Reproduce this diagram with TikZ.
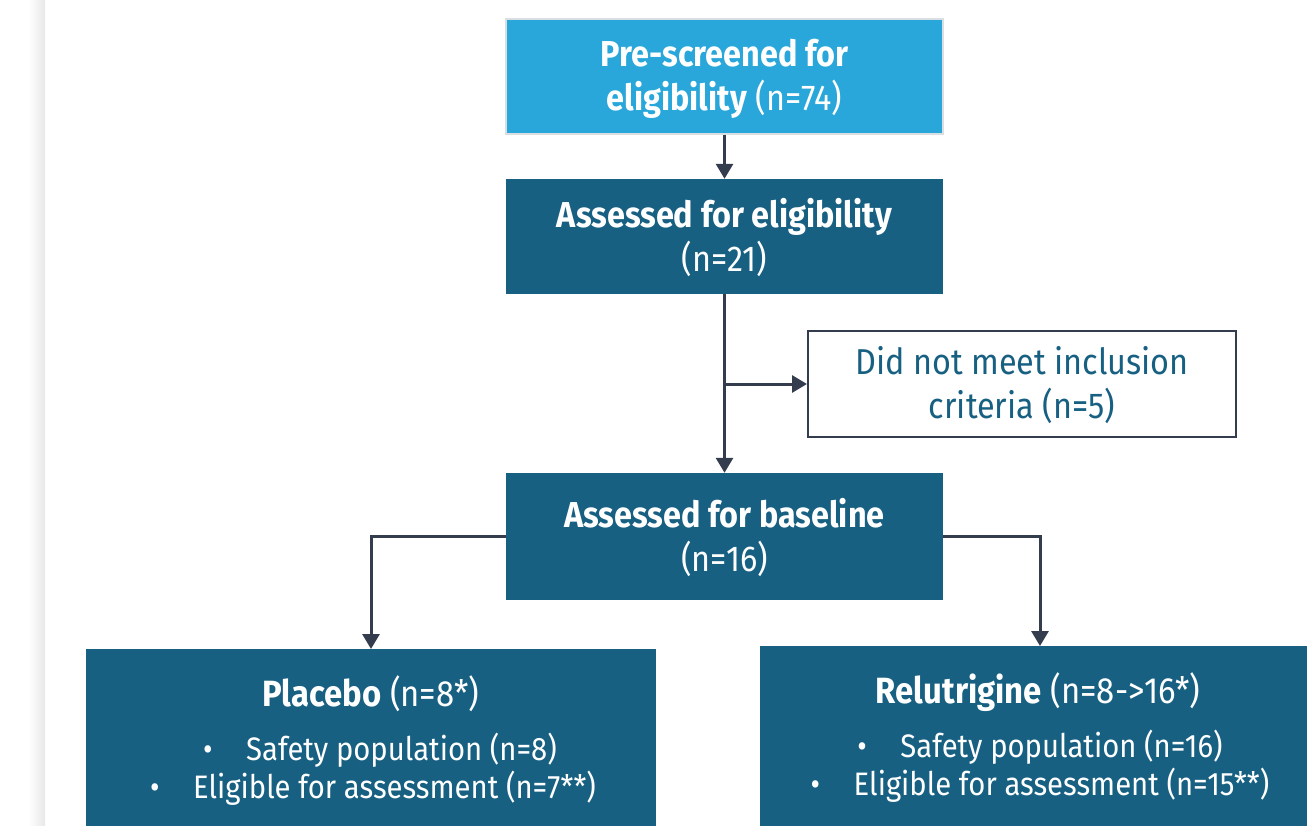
\documentclass[tikz,border=0pt]{standalone}
\usepackage{fontspec}
\setmainfont{Fira Sans}[FakeStretch=0.9]
\usetikzlibrary{arrows.meta,positioning}
\definecolor{skyblue}{HTML}{29A7DA}
\definecolor{deepteal}{HTML}{176082}
\definecolor{arrowgray}{HTML}{333D4E}
\definecolor{rimgray}{HTML}{D9DEE3}
\begin{document}
\begin{tikzpicture}[x=1pt,y=-1pt,
  box/.style={fill=deepteal, text=white, minimum width=437pt, inner sep=0pt, align=center, font=\fontsize{36}{44}\selectfont},
  arm/.style={fill=deepteal, inner sep=0pt, minimum height=190pt},
  line/.style={text=white, anchor=base, inner sep=0pt, font=\fontsize{32.5}{40}\selectfont},
  head/.style={line, font=\fontsize{36.5}{44}\selectfont},
  conn/.style={draw=arrowgray, line width=3pt, -{Triangle[width=17pt,length=15pt]}}]
\pgfmathsetmacro{\W}{1307}
\pgfmathsetmacro{\H}{826}
\useasboundingbox (0,0) rectangle (\W,\H);
\clip (0,0) rectangle (\W,\H);
% page edge shadow
\shade[left color=white, right color=black!9] (28,0) rectangle (45,\H);
% main column
\node[box, fill=skyblue, draw=rimgray, line width=1.5pt, minimum height=115pt, text depth=4pt] (prescreen) at (724.5,76.5)
  {\textbf{Pre-screened for}\\\textbf{eligibility} (n=74)};
\node[box, minimum height=115pt, text depth=4pt] (assessed) at (724.5,236.5)
  {\textbf{Assessed for eligibility}\\(n=21)};
\node[box, minimum height=127pt, text depth=4pt] (baseline) at (724.5,536.5)
  {\textbf{Assessed for baseline}\\(n=16)};
\node[draw=arrowgray, line width=2pt, fill=white, text=deepteal, align=center, minimum width=428pt,
  minimum height=106pt, inner sep=0pt, text depth=4pt, font=\fontsize{36}{44}\selectfont] (excluded) at (1022,384)
  {Did not meet inclusion\\criteria (n=5)};
% arms (cut by the page edge)
\node[arm, minimum width=570pt, anchor=north] (placebo) at (371,649) {};
\node[arm, minimum width=560pt, anchor=north] (relu) at (1040,646) {};
\node[head] (placebohead) at (371,706) {\textbf{Placebo} (n=8*)};
\node[line] (placebo1) at (380,760) {\makebox[43pt][l]{•}Safety population (n=8)};
\node[line] (placebo2) at (373,798) {\makebox[43pt][l]{•}Eligible for assessment (n=7**)};
\node[head] (reluhead) at (1038,703) {\textbf{Relutrigine} (n=8->16*)};
\node[line] (relu1) at (1040,757) {\makebox[43pt][l]{•}Safety population (n=16)};
\node[line] (relu2) at (1040,795) {\makebox[43pt][l]{•}Eligible for assessment (n=15**)};
% connectors
\coordinate (split) at (assessed.south |- excluded.west);
\draw[conn] (prescreen) -- (assessed);
\draw[conn] (assessed) -- (baseline);
\draw[conn] (split) -- (excluded.west);
\draw[conn] (baseline.west) -| (placebo.north);
\draw[conn] (baseline.east) -| (relu.north);
\end{tikzpicture}
\end{document}
